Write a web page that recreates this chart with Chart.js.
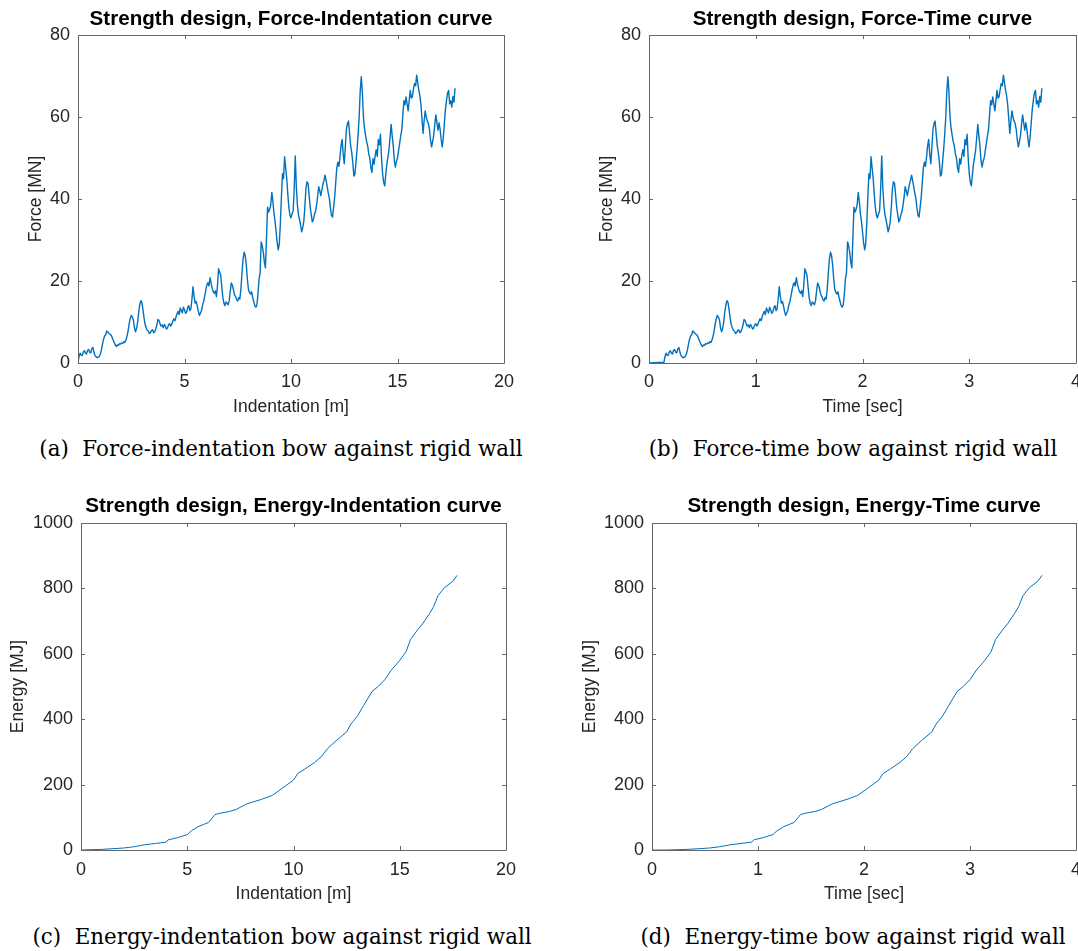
<!DOCTYPE html>
<html>
<head>
<meta charset="utf-8">
<title>Strength design – bow against rigid wall</title>
<script src="https://cdn.jsdelivr.net/npm/chart.js@4.4.1/dist/chart.umd.min.js"></script>
<style>
  html, body { margin: 0; padding: 0; background: #fff; overflow: hidden; width: 1078px; height: 951px; }
  canvas { position: absolute; }
  .caption {
    position: absolute;
    font-family: "DejaVu Serif", serif;
    font-size: 21.4px;
    line-height: 26px;
    color: #000;
    white-space: pre;
    transform: translateX(-50%);
  }
</style>
</head>
<body>
<canvas id="forceIndent"></canvas>
<canvas id="forceTime"></canvas>
<canvas id="energyIndent"></canvas>
<canvas id="energyTime"></canvas>

<div class="caption" style="left:281px; top:436px;">(a)  Force-indentation bow against rigid wall</div>
<div class="caption" style="left:853px; top:436px;">(b)  Force-time bow against rigid wall</div>
<div class="caption" style="left:282px; top:924px;">(c)  Energy-indentation bow against rigid wall</div>
<div class="caption" style="left:853px; top:924px;">(d)  Energy-time bow against rigid wall</div>

<script>
// indentation samples [m], every 0.05 m
const indentM = [
  0.00, 0.05, 0.10, 0.15, 0.20, 0.25, 0.30, 0.35, 0.40, 0.45, 0.50, 0.55, 0.60, 0.65, 0.70, 0.75, 0.80, 0.85, 0.90, 0.95,
  1.00, 1.05, 1.10, 1.15, 1.20, 1.25, 1.30, 1.35, 1.40, 1.45, 1.50, 1.55, 1.60, 1.65, 1.70, 1.75, 1.80, 1.85, 1.90, 1.95,
  2.00, 2.05, 2.10, 2.15, 2.20, 2.25, 2.30, 2.35, 2.40, 2.45, 2.50, 2.55, 2.60, 2.65, 2.70, 2.75, 2.80, 2.85, 2.90, 2.95,
  3.00, 3.05, 3.10, 3.15, 3.20, 3.25, 3.30, 3.35, 3.40, 3.45, 3.50, 3.55, 3.60, 3.65, 3.70, 3.75, 3.80, 3.85, 3.90, 3.95,
  4.00, 4.05, 4.10, 4.15, 4.20, 4.25, 4.30, 4.35, 4.40, 4.45, 4.50, 4.55, 4.60, 4.65, 4.70, 4.75, 4.80, 4.85, 4.90, 4.95,
  5.00, 5.05, 5.10, 5.15, 5.20, 5.25, 5.30, 5.35, 5.40, 5.45, 5.50, 5.55, 5.60, 5.65, 5.70, 5.75, 5.80, 5.85, 5.90, 5.95,
  6.00, 6.05, 6.10, 6.15, 6.20, 6.25, 6.30, 6.35, 6.40, 6.45, 6.50, 6.55, 6.60, 6.65, 6.70, 6.75, 6.80, 6.85, 6.90, 6.95,
  7.00, 7.05, 7.10, 7.15, 7.20, 7.25, 7.30, 7.35, 7.40, 7.45, 7.50, 7.55, 7.60, 7.65, 7.70, 7.75, 7.80, 7.85, 7.90, 7.95,
  8.00, 8.05, 8.10, 8.15, 8.20, 8.25, 8.30, 8.35, 8.40, 8.45, 8.50, 8.55, 8.60, 8.65, 8.70, 8.75, 8.80, 8.85, 8.90, 8.95,
  9.00, 9.05, 9.10, 9.15, 9.20, 9.25, 9.30, 9.35, 9.40, 9.45, 9.50, 9.55, 9.60, 9.65, 9.70, 9.75, 9.80, 9.85, 9.90, 9.95,
  10.00, 10.05, 10.10, 10.15, 10.20, 10.25, 10.30, 10.35, 10.40, 10.45, 10.50, 10.55, 10.60, 10.65, 10.70, 10.75, 10.80, 10.85, 10.90, 10.95,
  11.00, 11.05, 11.10, 11.15, 11.20, 11.25, 11.30, 11.35, 11.40, 11.45, 11.50, 11.55, 11.60, 11.65, 11.70, 11.75, 11.80, 11.85, 11.90, 11.95,
  12.00, 12.05, 12.10, 12.15, 12.20, 12.25, 12.30, 12.35, 12.40, 12.45, 12.50, 12.55, 12.60, 12.65, 12.70, 12.75, 12.80, 12.85, 12.90, 12.95,
  13.00, 13.05, 13.10, 13.15, 13.20, 13.25, 13.30, 13.35, 13.40, 13.45, 13.50, 13.55, 13.60, 13.65, 13.70, 13.75, 13.80, 13.85, 13.90, 13.95,
  14.00, 14.05, 14.10, 14.15, 14.20, 14.25, 14.30, 14.35, 14.40, 14.45, 14.50, 14.55, 14.60, 14.65, 14.70, 14.75, 14.80, 14.85, 14.90, 14.95,
  15.00, 15.05, 15.10, 15.15, 15.20, 15.25, 15.30, 15.35, 15.40, 15.45, 15.50, 15.55, 15.60, 15.65, 15.70, 15.75, 15.80, 15.85, 15.90, 15.95,
  16.00, 16.05, 16.10, 16.15, 16.20, 16.25, 16.30, 16.35, 16.40, 16.45, 16.50, 16.55, 16.60, 16.65, 16.70, 16.75, 16.80, 16.85, 16.90, 16.95,
  17.00, 17.05, 17.10, 17.15, 17.20, 17.25, 17.30, 17.35, 17.40, 17.45, 17.50, 17.55, 17.60, 17.65, 17.70
];

// contact force [MN] at each indentation sample
const forceMN = [
  0.2, 1.6, 2.4, 1.9, 1.8, 2.7, 3.0, 2.4, 2.2, 3.1, 3.3, 2.6, 2.5, 3.5, 3.8, 2.6, 1.8, 1.5, 1.3, 1.4,
  1.6, 2.2, 3.2, 4.6, 5.8, 6.6, 6.9, 7.8, 7.6, 7.2, 7.0, 6.8, 6.3, 5.6, 5.0, 4.4, 4.0, 4.4, 4.3, 4.7,
  4.6, 4.9, 4.8, 5.2, 5.0, 5.6, 6.5, 7.8, 9.5, 10.8, 11.6, 11.2, 10.5, 8.6, 7.6, 8.4, 10.0, 12.4, 14.2, 15.2,
  14.8, 13.0, 11.0, 9.4, 8.6, 8.0, 7.8, 7.2, 7.4, 7.9, 8.1, 7.4, 7.6, 8.3, 9.2, 10.6, 10.4, 9.6, 9.0, 9.3,
  8.6, 9.4, 9.0, 8.3, 8.5, 9.3, 9.6, 9.0, 9.4, 10.2, 10.8, 10.3, 11.2, 12.0, 12.6, 11.8, 13.4, 12.8, 12.2, 13.6,
  13.0, 12.1, 12.4, 13.5, 14.0, 12.8, 13.2, 15.6, 18.6, 16.2, 14.6, 15.0, 13.9, 12.6, 11.6, 12.2, 12.8, 14.2, 15.0, 16.4,
  17.8, 19.0, 19.6, 18.8, 20.8, 19.4, 18.2, 17.4, 17.0, 17.6, 16.2, 19.0, 23.0, 22.2, 21.4, 18.6, 16.0, 14.6, 14.0, 14.9,
  14.6, 14.2, 15.2, 17.6, 19.5, 18.9, 17.8, 16.6, 16.2, 15.4, 15.1, 16.0, 15.6, 18.2, 22.0, 25.4, 27.0, 26.2, 24.0, 20.6,
  18.0, 17.2, 16.8, 17.4, 16.0, 15.0, 14.0, 13.6, 14.2, 16.8, 20.5, 22.0, 29.5, 28.6, 27.0, 24.6, 23.2, 30.5, 38.0, 36.8,
  37.5, 38.6, 41.6, 39.4, 36.5, 34.6, 32.0, 29.4, 27.6, 29.0, 34.0, 40.5, 46.2, 45.0, 50.3, 47.6, 45.0, 41.2, 38.0, 36.0,
  35.4, 36.4, 37.0, 42.4, 50.5, 43.0, 38.6, 36.2, 35.0, 33.6, 32.0, 33.0, 34.5, 38.0, 42.5, 44.2, 43.8, 41.0, 38.0, 36.2,
  34.4, 35.0, 36.2, 37.0, 38.5, 40.6, 43.0, 42.0, 40.8, 42.2, 43.6, 44.6, 45.8, 44.4, 43.0, 41.4, 40.2, 37.8, 36.0, 35.6,
  38.0, 40.4, 44.0, 47.6, 49.0, 48.0, 50.2, 53.0, 54.5, 51.0, 48.6, 52.6, 57.0, 58.4, 59.0, 56.0, 53.0, 51.4, 49.0, 45.6,
  46.0, 49.0, 52.0, 55.6, 60.0, 66.4, 69.8, 66.0, 60.0, 57.2, 55.5, 54.0, 53.0, 51.0, 50.0, 47.6, 46.5, 49.8, 48.5, 50.6,
  52.0, 50.4, 54.5, 53.2, 55.8, 50.0, 46.2, 44.0, 43.2, 46.0, 48.5, 50.2, 52.0, 55.0, 58.2, 55.4, 53.0, 49.4, 47.8, 49.2,
  50.0, 51.8, 53.5, 55.4, 56.8, 60.4, 64.0, 63.0, 64.9, 63.2, 61.5, 64.0, 66.5, 64.6, 65.0, 66.8, 68.2, 67.6, 70.2, 68.4,
  66.5, 65.2, 63.0, 59.6, 56.0, 59.0, 61.5, 60.0, 59.0, 58.4, 57.0, 54.4, 52.7, 54.0, 55.5, 58.2, 60.5, 58.6, 56.8, 58.6,
  57.0, 54.6, 52.7, 55.0, 58.4, 61.8, 64.0, 65.8, 66.5, 63.2, 64.0, 62.4, 65.0, 63.6, 67.0
];

// time [sec]: rest until first contact, then one entry per force sample
const timeSec = [
  0,
  0.14, 0.15, 0.16, 0.17, 0.18, 0.19, 0.20, 0.21, 0.22, 0.23,
  0.24, 0.25, 0.26, 0.27, 0.28, 0.29, 0.30, 0.31, 0.32, 0.33,
  0.34, 0.35, 0.36, 0.37, 0.38, 0.39, 0.40, 0.41, 0.42, 0.43,
  0.44, 0.45, 0.46, 0.47, 0.48, 0.49, 0.50, 0.51, 0.52, 0.53,
  0.54, 0.55, 0.56, 0.57, 0.58, 0.59, 0.60, 0.61, 0.62, 0.63,
  0.64, 0.65, 0.66, 0.67, 0.68, 0.69, 0.70, 0.71, 0.72, 0.73,
  0.74, 0.75, 0.76, 0.77, 0.78, 0.79, 0.80, 0.81, 0.82, 0.83,
  0.84, 0.85, 0.86, 0.87, 0.88, 0.89, 0.90, 0.91, 0.92, 0.93,
  0.94, 0.95, 0.96, 0.97, 0.98, 0.99, 1.00, 1.01, 1.02, 1.03,
  1.04, 1.05, 1.06, 1.07, 1.08, 1.09, 1.10, 1.11, 1.12, 1.13,
  1.14, 1.15, 1.16, 1.17, 1.18, 1.19, 1.20, 1.21, 1.22, 1.23,
  1.24, 1.25, 1.26, 1.27, 1.28, 1.29, 1.30, 1.31, 1.32, 1.33,
  1.34, 1.35, 1.36, 1.37, 1.38, 1.39, 1.40, 1.41, 1.42, 1.43,
  1.44, 1.45, 1.46, 1.47, 1.48, 1.49, 1.50, 1.51, 1.52, 1.53,
  1.54, 1.55, 1.56, 1.57, 1.58, 1.59, 1.60, 1.61, 1.62, 1.63,
  1.64, 1.65, 1.66, 1.67, 1.68, 1.69, 1.70, 1.71, 1.72, 1.73,
  1.74, 1.75, 1.76, 1.77, 1.78, 1.79, 1.80, 1.81, 1.82, 1.83,
  1.84, 1.85, 1.86, 1.87, 1.88, 1.89, 1.90, 1.91, 1.92, 1.93,
  1.94, 1.95, 1.96, 1.97, 1.98, 1.99, 2.00, 2.01, 2.02, 2.03,
  2.04, 2.05, 2.06, 2.07, 2.08, 2.09, 2.10, 2.11, 2.12, 2.13,
  2.14, 2.15, 2.16, 2.17, 2.18, 2.19, 2.20, 2.21, 2.22, 2.23,
  2.24, 2.25, 2.26, 2.27, 2.28, 2.29, 2.30, 2.31, 2.32, 2.33,
  2.34, 2.35, 2.36, 2.37, 2.38, 2.39, 2.40, 2.41, 2.42, 2.43,
  2.44, 2.45, 2.46, 2.47, 2.48, 2.49, 2.50, 2.51, 2.52, 2.53,
  2.54, 2.55, 2.56, 2.57, 2.58, 2.59, 2.60, 2.61, 2.62, 2.63,
  2.64, 2.65, 2.66, 2.67, 2.68, 2.69, 2.70, 2.71, 2.72, 2.73,
  2.74, 2.75, 2.76, 2.77, 2.78, 2.79, 2.80, 2.81, 2.82, 2.83,
  2.84, 2.85, 2.86, 2.87, 2.88, 2.89, 2.90, 2.91, 2.92, 2.93,
  2.94, 2.95, 2.96, 2.97, 2.98, 2.99, 3.00, 3.01, 3.02, 3.03,
  3.04, 3.05, 3.06, 3.07, 3.08, 3.09, 3.10, 3.11, 3.12, 3.13,
  3.14, 3.15, 3.16, 3.17, 3.18, 3.19, 3.20, 3.21, 3.22, 3.23,
  3.24, 3.25, 3.26, 3.27, 3.28, 3.29, 3.30, 3.31, 3.32, 3.33,
  3.34, 3.35, 3.36, 3.37, 3.38, 3.39, 3.40, 3.41, 3.42, 3.43,
  3.44, 3.45, 3.46, 3.47, 3.48, 3.49, 3.50, 3.51, 3.52, 3.53,
  3.54, 3.55, 3.56, 3.57, 3.58, 3.59, 3.60, 3.61, 3.62, 3.63,
  3.64, 3.65, 3.66, 3.67, 3.68
];
const forceOverTime = [0].concat(forceMN);

// absorbed energy [MJ] against indentation [m]
const energyIndentM = [
  0, 1, 2, 2.5, 3, 3.5, 4, 4.1, 4.5, 5, 5.2, 5.5, 5.8, 6.0, 6.1, 6.3, 6.5,
  7, 7.3, 7.8, 8.5, 9, 9.5, 10, 10.2, 10.5, 11, 11.3, 11.6, 12, 12.5, 12.7,
  13, 13.3, 13.7, 14, 14.3, 14.6, 15, 15.3, 15.5, 15.8, 16.1, 16.4, 16.6,
  16.8, 17.1, 17.5, 17.7
];
const energyMJ = [
  0, 2, 6, 10, 16, 20, 24, 31, 37, 47, 59, 71, 79, 84, 92, 108, 112,
  118, 124, 141, 155, 167, 190, 214, 234, 246, 268, 285, 310, 334, 361, 385,
  409, 442, 485, 501, 521, 550, 580, 607, 643, 670, 694, 723, 745,
  778, 802, 822, 840
];

// the same energy record against time [sec]
const energyTimeSec = [
  0,
  0.14, 0.34, 0.54, 0.64, 0.74, 0.84, 0.94, 0.96, 1.04, 1.14, 1.18, 1.24, 1.30, 1.34, 1.36, 1.40, 1.44,
  1.54, 1.60, 1.70, 1.84, 1.94, 2.04, 2.14, 2.18, 2.24, 2.34, 2.40, 2.46, 2.54, 2.64, 2.68,
  2.74, 2.80, 2.88, 2.94, 3.00, 3.06, 3.14, 3.20, 3.24, 3.30, 3.36, 3.42, 3.46,
  3.50, 3.56, 3.64, 3.68
];
const energyOverTime = [0].concat(energyMJ);

const FONT = '"Liberation Sans", Arial, Helvetica, sans-serif';
const INK = '#262626';
const FRAME = '#666';
const LINE = '#0072BD';
const TITLE_SIZE = 20.6;
const AXIS_SIZE = 17.5;
const TICK_SIZE = 18;

// box round the plot area with short inward ticks on all four sides
const axesBox = {
  id: 'axesBox',
  afterDatasetsDraw(chart) {
    const { ctx, chartArea: a, scales: { x, y } } = chart;
    const len = 4;
    ctx.save();
    ctx.strokeStyle = FRAME;
    ctx.lineWidth = 1;
    ctx.beginPath();
    x.ticks.forEach((t) => {
      const px = Math.round(x.getPixelForValue(t.value)) + 0.5;
      ctx.moveTo(px, a.bottom);
      ctx.lineTo(px, a.bottom - len);
      ctx.moveTo(px, a.top);
      ctx.lineTo(px, a.top + len);
    });
    y.ticks.forEach((t) => {
      const py = Math.round(y.getPixelForValue(t.value)) + 0.5;
      ctx.moveTo(a.left, py);
      ctx.lineTo(a.left + len, py);
      ctx.moveTo(a.right, py);
      ctx.lineTo(a.right - len, py);
    });
    ctx.rect(a.left + 0.5, a.top + 0.5, a.right - a.left, a.bottom - a.top);
    ctx.stroke();
    ctx.restore();
  },
};

const panels = [
  {
    id: 'forceIndent', canvas: [0, 0, 539, 420], plot: [78, 35, 504, 363],
    titleY: 19.5, yLabelX: 36, xLabelY: 407, xTickY: 382,
    title: 'Strength design, Force-Indentation curve',
    xTitle: 'Indentation [m]', yTitle: 'Force [MN]',
    xs: indentM, ys: forceMN, xMax: 20, xStep: 5, yMax: 80, yStep: 20, lineWidth: 1.4,
  },
  {
    id: 'forceTime', canvas: [539, 0, 560, 420], plot: [649, 35, 1076, 363],
    titleY: 19.5, yLabelX: 607.5, xLabelY: 407, xTickY: 382,
    title: 'Strength design, Force-Time curve',
    xTitle: 'Time [sec]', yTitle: 'Force [MN]',
    xs: timeSec, ys: forceOverTime, xMax: 4, xStep: 1, yMax: 80, yStep: 20, lineWidth: 1.4,
  },
  {
    id: 'energyIndent', canvas: [0, 480, 539, 430], plot: [81, 523, 506, 850],
    titleY: 506.7, yLabelX: 18.6, xLabelY: 894, xTickY: 870,
    title: 'Strength design, Energy-Indentation curve',
    xTitle: 'Indentation [m]', yTitle: 'Energy [MJ]',
    xs: energyIndentM, ys: energyMJ, xMax: 20, xStep: 5, yMax: 1000, yStep: 200, lineWidth: 1,
  },
  {
    id: 'energyTime', canvas: [539, 480, 560, 430], plot: [652, 523, 1076, 850],
    titleY: 506.7, yLabelX: 590, xLabelY: 894, xTickY: 870,
    title: 'Strength design, Energy-Time curve',
    xTitle: 'Time [sec]', yTitle: 'Energy [MJ]',
    xs: energyTimeSec, ys: energyOverTime, xMax: 4, xStep: 1, yMax: 1000, yStep: 200, lineWidth: 1,
  },
];

const drawPanel = (p) => {
  const [cl, ct, cw, ch] = p.canvas;
  const [pl, pt, pr, pb] = p.plot;
  const el = document.getElementById(p.id);
  el.width = cw;
  el.height = ch;
  el.style.left = cl + 'px';
  el.style.top = ct + 'px';

  const titleLH = TITLE_SIZE * 1.2;
  const axisLH = AXIS_SIZE * 1.2;
  const tickLH = TICK_SIZE * 1.2;
  const titleTop = p.titleY - ct - titleLH / 2;
  const tickFont = { family: FONT, size: TICK_SIZE, lineHeight: 1.2 };
  const axisFont = { family: FONT, size: AXIS_SIZE, lineHeight: 1.2 };

  new Chart(el, {
    type: 'line',
    data: {
      datasets: [
        {
          data: p.xs.map((x, i) => ({ x, y: p.ys[i] })),
          borderColor: LINE,
          borderWidth: p.lineWidth,
          borderJoinStyle: 'round',
          pointRadius: 0,
          tension: 0,
          fill: false,
        },
      ],
    },
    options: {
      responsive: false,
      animation: false,
      devicePixelRatio: 1,
      layout: { padding: { left: 0, top: 0, bottom: 0, right: cl + cw - pr } },
      plugins: {
        legend: { display: false },
        tooltip: { enabled: false },
        title: {
          display: true,
          text: p.title,
          fullSize: false,
          color: '#000',
          font: { family: FONT, size: TITLE_SIZE, weight: 'bold', lineHeight: 1.2 },
          padding: { top: titleTop, bottom: pt - ct - titleTop - titleLH },
        },
      },
      scales: {
        x: {
          type: 'linear',
          min: 0,
          max: p.xMax,
          afterFit: (scale) => { scale.height = ct + ch - pb; },
          grid: { display: false, drawTicks: false },
          border: { display: false },
          ticks: {
            stepSize: p.xStep,
            color: INK,
            font: tickFont,
            padding: p.xTickY - pb - tickLH / 2,
            maxRotation: 0,
            callback: (v) => String(v),
          },
          title: {
            display: true,
            text: p.xTitle,
            color: INK,
            font: axisFont,
            padding: { top: 0, bottom: ct + ch - p.xLabelY - axisLH / 2 },
          },
        },
        y: {
          type: 'linear',
          min: 0,
          max: p.yMax,
          afterFit: (scale) => { scale.width = pl - cl; },
          grid: { display: false, drawTicks: false },
          border: { display: false },
          ticks: {
            stepSize: p.yStep,
            color: INK,
            font: tickFont,
            padding: 8,
            callback: (v) => String(v),
          },
          title: {
            display: true,
            text: p.yTitle,
            color: INK,
            font: axisFont,
            padding: { top: p.yLabelX - cl - axisLH / 2, bottom: 0 },
          },
        },
      },
    },
    plugins: [axesBox],
  });
};

panels.forEach(drawPanel);
</script>
</body>
</html>
